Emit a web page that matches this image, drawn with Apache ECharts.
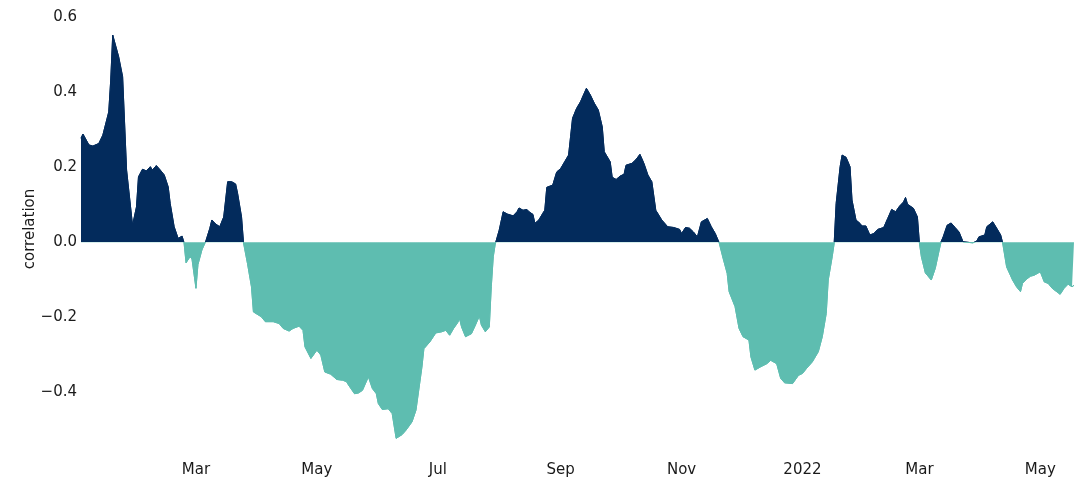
<!DOCTYPE html>
<html>
<head>
<meta charset="utf-8">
<title>correlation</title>
<script src="https://cdn.jsdelivr.net/npm/echarts@6/dist/echarts.min.js"></script>
<style>
  html, body { margin: 0; padding: 0; background: #fff; }
  #chart { width: 1087px; height: 483px; }
</style>
</head>
<body>
<div id="chart"></div>
<script>
// days counted from 2021-01-01
const dayOffsets = [
  1, 2, 3, 5, 7, 10, 12, 15, 16, 17, 18, 20, 22, 24, 27, 29, 30, 32, 34, 36,
  37, 39, 41, 43, 45, 46, 48, 50, 52, 53, 54, 56, 57, 59, 60, 62, 64, 66, 67, 69,
  71, 73, 75, 77, 79, 80, 82, 83, 85, 87, 88, 92, 94, 98, 101, 103, 106, 108, 109, 111,
  113, 114, 117, 120, 122, 124, 127, 130, 133, 135, 136, 139, 141, 143, 146, 148, 150, 151, 153, 156,
  158, 160, 163, 165, 168, 170, 173, 174, 177, 180, 183, 185, 187, 189, 191, 192, 193, 195, 198, 200,
  202, 203, 205, 207, 208, 209, 210, 212, 214, 216, 219, 221, 222, 224, 226, 227, 229, 230, 232, 234,
  235, 236, 239, 241, 243, 245, 247, 248, 249, 251, 253, 256, 258, 260, 262, 264, 265, 268, 269, 271,
  273, 275, 276, 279, 281, 283, 285, 287, 289, 291, 294, 297, 300, 303, 304, 306, 308, 310, 312, 314,
  317, 319, 321, 323, 325, 327, 328, 331, 333, 335, 338, 339, 341, 344, 347, 349, 352, 354, 356, 360,
  363, 365, 367, 370, 371, 373, 375, 377, 378, 380, 381, 382, 384, 385, 387, 389, 390, 392, 394, 395,
  397, 399, 401, 403, 406, 408, 410, 411, 412, 414, 416, 417, 418, 419, 421, 423, 424, 425, 427, 430,
  432, 434, 435, 436, 438, 440, 442, 444, 446, 447, 451, 453, 454, 457, 458, 461, 463, 465, 466, 468,
  471, 473, 475, 476, 478, 480, 482, 485, 487, 489, 491, 495, 497, 499, 501, 502
];
const correlation = [
  0.277, 0.288, 0.285, 0.259, 0.256, 0.263, 0.285, 0.347, 0.432, 0.552, 0.549, 0.494, 0.441, 0.192, 0.045, 0.094, 0.174, 0.194, 0.190, 0.201,
  0.192, 0.204, 0.192, 0.179, 0.147, 0.103, 0.041, 0.010, 0.016, -0.002, -0.055, -0.039, -0.045, -0.123, -0.060, -0.021, 0.003, 0.037, 0.059, 0.048,
  0.041, 0.067, 0.161, 0.161, 0.155, 0.130, 0.067, -0.002, -0.057, -0.119, -0.186, -0.199, -0.212, -0.212, -0.217, -0.230, -0.237, -0.230, -0.235, -0.224,
  -0.235, -0.279, -0.310, -0.288, -0.301, -0.346, -0.352, -0.366, -0.368, -0.372, -0.381, -0.404, -0.402, -0.395, -0.359, -0.390, -0.404, -0.430, -0.446, -0.444,
  -0.457, -0.523, -0.513, -0.501, -0.479, -0.448, -0.333, -0.284, -0.266, -0.242, -0.239, -0.235, -0.248, -0.230, -0.215, -0.204, -0.226, -0.252, -0.244, -0.221,
  -0.197, -0.221, -0.239, -0.226, -0.119, -0.039, -0.005, 0.032, 0.081, 0.075, 0.070, 0.081, 0.091, 0.085, 0.087, 0.081, 0.074, 0.050, 0.059, 0.077,
  0.085, 0.146, 0.152, 0.187, 0.196, 0.214, 0.232, 0.281, 0.330, 0.356, 0.374, 0.410, 0.392, 0.370, 0.352, 0.307, 0.241, 0.214, 0.173, 0.167,
  0.176, 0.181, 0.205, 0.210, 0.220, 0.234, 0.210, 0.179, 0.161, 0.085, 0.059, 0.041, 0.039, 0.034, 0.023, 0.039, 0.037, 0.027, 0.014, 0.054,
  0.063, 0.041, 0.023, -0.002, -0.044, -0.083, -0.132, -0.172, -0.230, -0.252, -0.261, -0.306, -0.341, -0.332, -0.324, -0.315, -0.324, -0.363, -0.375, -0.377,
  -0.355, -0.350, -0.337, -0.319, -0.310, -0.292, -0.252, -0.190, -0.101, -0.039, -0.003, 0.103, 0.201, 0.232, 0.226, 0.201, 0.112, 0.059, 0.050, 0.043,
  0.043, 0.019, 0.023, 0.034, 0.039, 0.063, 0.087, 0.090, 0.081, 0.096, 0.107, 0.119, 0.101, 0.103, 0.090, 0.067, -0.002, -0.039, -0.082, -0.101,
  -0.070, -0.021, 0.002, 0.014, 0.045, 0.051, 0.039, 0.027, 0.001, -0.004, -0.002, 0.003, 0.014, 0.019, 0.041, 0.054, 0.037, 0.019, -0.002, -0.066,
  -0.101, -0.119, -0.132, -0.110, -0.099, -0.091, -0.088, -0.079, -0.106, -0.110, -0.123, -0.139, -0.123, -0.112, -0.119, -0.115
];
const monthNames = ['Jan', 'Feb', 'Mar', 'Apr', 'May', 'Jun', 'Jul', 'Aug', 'Sep', 'Oct', 'Nov', 'Dec'];

const positiveColor = '#032b5c';
const negativeColor = '#5ebdb0';
const textFont = "'Century Gothic', 'DejaVu Sans', sans-serif";

const seriesData = dayOffsets.map((d, i) => [new Date(2021, 0, 1 + d).getTime(), correlation[i]]);

const chart = echarts.init(document.getElementById('chart'));
const option = {
  animation: false,
  grid: { left: 81, right: 13, top: 17, bottom: 42 },
  xAxis: {
    type: 'time',
    min: 'dataMin',
    max: 'dataMax',
    splitNumber: 8,
    axisLine: { show: false },
    axisTick: { show: false },
    splitLine: { show: false },
    axisLabel: {
      margin: 22,
      fontFamily: textFont,
      fontSize: 15,
      color: '#1a1a1a',
      formatter: (val) => {
        const d = new Date(val);
        return d.getMonth() === 0 ? String(d.getFullYear()) : monthNames[d.getMonth()];
      }
    }
  },
  yAxis: {
    type: 'value',
    min: -0.53,
    max: 0.6,
    name: 'correlation',
    nameLocation: 'middle',
    nameGap: 43,
    nameMoveOverlap: false,
    nameTextStyle: { fontFamily: textFont, fontSize: 15, color: '#1a1a1a' },
    axisLine: { show: false },
    axisTick: { show: false },
    splitLine: { show: false },
    axisLabel: {
      margin: 4,
      showMinLabel: false,
      fontFamily: textFont,
      fontSize: 15,
      color: '#1a1a1a',
      padding: [4, 0, 0, 0],
      formatter: (v) => (v < 0 ? '\u2212' : '') + Math.abs(v).toFixed(1)
    }
  },
  series: [
    {
      type: 'line',
      data: seriesData,
      showSymbol: false,
      lineStyle: { width: 1, color: positiveColor },
      areaStyle: { opacity: 1, color: positiveColor },
      emphasis: { disabled: true }
    }
  ]
};
chart.setOption(option);

// split the fill colour at the zero line: navy above, teal below
const zeroY = chart.convertToPixel({ yAxisIndex: 0 }, 0);
const splitFill = () => new echarts.graphic.LinearGradient(0, zeroY - 0.5, 0, zeroY + 0.5, [
  { offset: 0, color: positiveColor },
  { offset: 0.5, color: positiveColor },
  { offset: 0.5, color: negativeColor },
  { offset: 1, color: negativeColor }
], true);
chart.setOption({
  series: [{ lineStyle: { color: splitFill() }, areaStyle: { color: splitFill() } }]
});
</script>
</body>
</html>
